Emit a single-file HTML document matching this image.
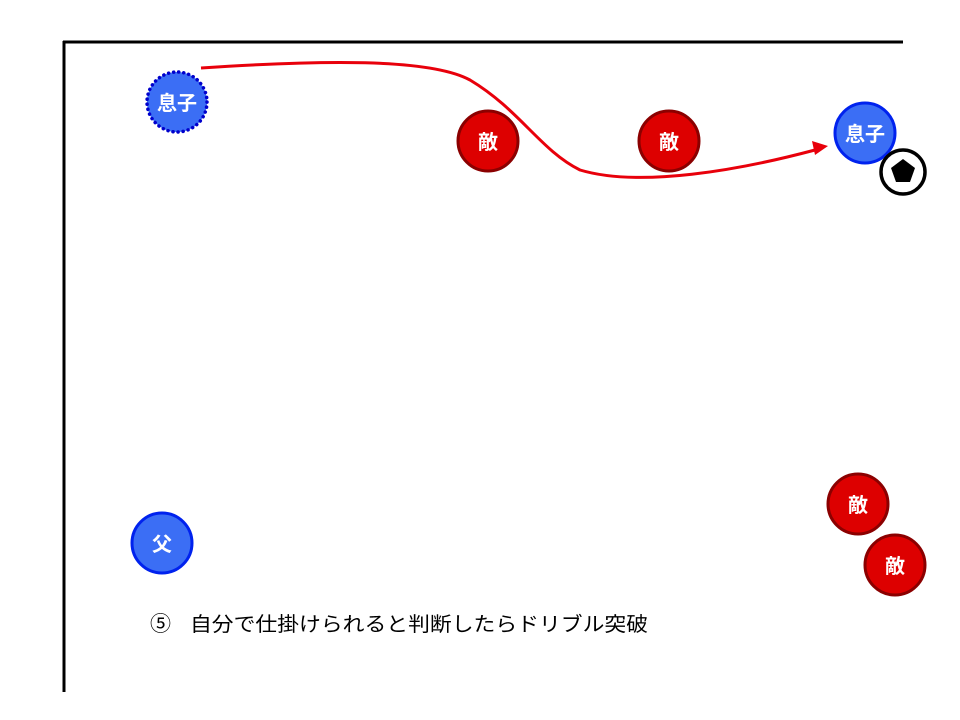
<!DOCTYPE html>
<html><head><meta charset="utf-8"><style>body{margin:0;background:#fff}svg{display:block}</style></head><body>
<svg width="960" height="720" xmlns="http://www.w3.org/2000/svg" font-family="Liberation Sans, Noto Sans CJK JP, sans-serif">
<line x1="63" y1="42" x2="903" y2="42" stroke="#000" stroke-width="3"/>
<line x1="64" y1="41" x2="64" y2="692" stroke="#000" stroke-width="3"/>
<path d="M201,68 C320,60 430,58 470,80 C520,110 540,150 580,170 C640,188 740,170 815,150" fill="none" stroke="#e8000b" stroke-width="3"/>
<polygon points="828,146 812,141 815,155" fill="#e8000b"/>
<g font-weight="bold" font-size="20" fill="#fff" text-anchor="middle">
<circle cx="177" cy="102" r="30" fill="#3b6ef5" stroke="#0000cc" stroke-width="3.5" stroke-dasharray="0.1 5" stroke-linecap="round"/>
<text x="177" y="110">息子</text>
<circle cx="865" cy="133" r="30" fill="#3b6ef5" stroke="#0022ee" stroke-width="3"/>
<text x="865" y="141">息子</text>
<circle cx="162" cy="543" r="30" fill="#3b6ef5" stroke="#0022ee" stroke-width="3"/>
<text x="162" y="551">父</text>
<circle cx="488" cy="141" r="30" fill="#dd0000" stroke="#8b0000" stroke-width="3"/>
<text x="488" y="149">敵</text>
<circle cx="669" cy="141" r="30" fill="#dd0000" stroke="#8b0000" stroke-width="3"/>
<text x="669" y="149">敵</text>
<circle cx="858" cy="504" r="30" fill="#dd0000" stroke="#8b0000" stroke-width="3"/>
<text x="858" y="512">敵</text>
<circle cx="895" cy="565" r="30" fill="#dd0000" stroke="#8b0000" stroke-width="3"/>
<text x="895" y="573">敵</text>
</g>
<circle cx="903" cy="172" r="22" fill="#fff" stroke="#000" stroke-width="3.5"/>
<polygon points="903,159 915,168 910,182 896,182 891,168" fill="#000"/>
<text x="150" y="631" font-size="21" fill="#000">⑤</text>
<text x="190" y="631" font-size="20" fill="#000" textLength="458" lengthAdjust="spacingAndGlyphs">自分で仕掛けられると判断したらドリブル突破</text>
</svg>
</body></html>
